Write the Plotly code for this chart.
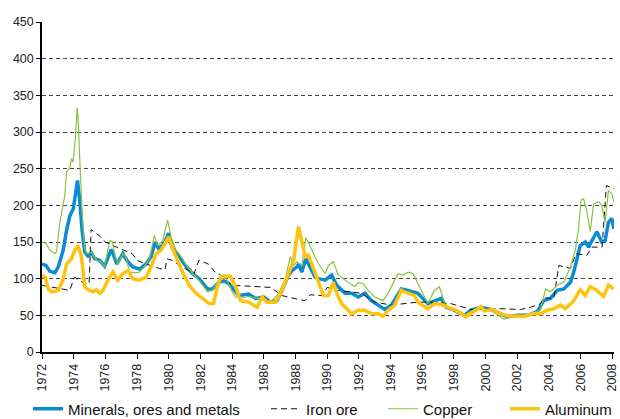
import plotly.graph_objects as go

# ---------------- data ----------------
minerals_t = [1972.00, 1972.25, 1972.50, 1972.82, 1973.03, 1973.34, 1973.55, 1973.76, 1973.97, 1974.11,
              1974.24, 1974.38, 1974.53, 1974.70, 1974.91, 1975.12, 1975.33, 1975.64, 1975.95, 1976.37,
              1976.73, 1977.10, 1977.42, 1977.73, 1978.15, 1978.57, 1978.88, 1979.15, 1979.36, 1979.72,
              1979.99, 1980.24, 1980.56, 1980.97, 1981.50, 1981.92, 1982.44, 1982.75, 1983.17, 1983.49,
              1983.80, 1984.43, 1985.05, 1985.47, 1986.00, 1986.41, 1986.83, 1987.15, 1987.56, 1987.77,
              1988.09, 1988.19, 1988.40, 1988.65, 1988.92, 1989.24, 1989.45, 1989.87, 1990.28, 1990.60,
              1991.12, 1991.54, 1991.96, 1992.38, 1992.79, 1993.21, 1993.63, 1994.05, 1994.68, 1995.10,
              1995.52, 1995.72, 1996.35, 1996.77, 1997.19, 1997.50, 1998.03, 1998.65, 1999.07, 1999.70,
              2000.33, 2000.95, 2001.37, 2002.00, 2002.63, 2003.26, 2003.67, 2004.09, 2004.51, 2004.93,
              2005.35, 2005.56, 2005.77, 2005.97, 2006.29, 2006.50, 2006.71, 2007.02, 2007.33, 2007.54,
              2007.75, 2007.96, 2008.10]
minerals_v = [120, 118, 110, 108, 116, 139, 166, 186, 195, 220,
              234, 207, 166, 136, 131, 135, 127, 125, 117, 140,
              120, 134, 123, 116, 113, 120, 130, 150, 141, 148,
              162, 141, 134, 120, 107, 100, 86, 86, 95, 97,
              93, 77, 79, 73, 75, 68, 70, 84, 105, 111,
              116, 120, 109, 127, 116, 102, 100, 98, 105, 91,
              80, 80, 75, 80, 70, 64, 58, 64, 86, 84,
              82, 80, 66, 70, 73, 61, 57, 50, 57, 61,
              58, 52, 48, 50, 50, 55, 70, 73, 84, 86,
              95, 109, 130, 145, 150, 143, 152, 164, 150, 152,
              177, 182, 168]

iron_t = [1972.00, 1973.75, 1974.05, 1974.70, 1974.97, 1975.10, 1975.60, 1976.00, 1976.70, 1977.70,
          1978.00, 1978.55, 1979.40, 1979.75, 1979.90, 1980.20, 1980.85, 1981.60, 1981.90, 1982.50,
          1983.00, 1983.20, 1984.00, 1985.25, 1986.50, 1986.70, 1987.15, 1987.70, 1988.60, 1988.93,
          1989.66, 1990.00, 1990.70, 1992.17, 1993.00, 1994.05, 1994.90, 1995.70, 1996.50, 1997.80,
          1998.45, 1999.06, 2000.96, 2002.20, 2002.84, 2003.47, 2003.68, 2004.30, 2004.62, 2005.35,
          2005.70, 2006.40, 2006.70, 2007.35, 2007.62, 2008.10]
iron_v = [91, 84, 102, 93, 93, 167, 159, 150, 143, 134,
          125, 120, 114, 112, 127, 125, 116, 107, 125, 120,
          107, 106, 91, 89, 88, 84, 77, 74, 70, 78,
          77, 88, 84, 80, 68, 64, 66, 68, 68, 66,
          62, 58, 59, 58, 61, 66, 74, 73, 118, 114,
          134, 132, 143, 143, 227, 222]

copper_t = [1972.00, 1972.25, 1972.50, 1972.80, 1972.92, 1973.13, 1973.44, 1973.55, 1973.76, 1973.86,
            1973.96, 1974.10, 1974.22, 1974.30, 1974.39, 1974.53, 1974.70, 1974.80, 1975.12, 1975.43,
            1975.74, 1975.95, 1976.16, 1976.30, 1976.45, 1976.65, 1976.80, 1977.10, 1977.30, 1977.52,
            1977.84, 1978.15, 1978.46, 1978.78, 1979.09, 1979.30, 1979.62, 1979.93, 1980.14, 1980.45,
            1980.77, 1981.18, 1981.60, 1982.02, 1982.44, 1982.75, 1983.17, 1983.59, 1984.01, 1984.22,
            1984.53, 1985.05, 1985.47, 1985.89, 1986.41, 1986.94, 1987.36, 1987.67, 1987.88, 1988.09,
            1988.40, 1988.65, 1989.03, 1989.45, 1989.87, 1990.08, 1990.38, 1990.70, 1991.12, 1991.44,
            1991.75, 1991.96, 1992.27, 1992.59, 1993.00, 1993.53, 1993.84, 1994.26, 1994.47, 1994.78,
            1995.10, 1995.41, 1995.72, 1996.35, 1996.77, 1997.08, 1997.50, 1998.03, 1998.65, 1999.28,
            1999.70, 2000.33, 2001.16, 2001.58, 2002.21, 2002.84, 2003.46, 2003.78, 2004.09, 2004.51,
            2004.93, 2005.35, 2005.66, 2005.87, 2006.02, 2006.18, 2006.39, 2006.60, 2006.81, 2007.13,
            2007.33, 2007.54, 2007.75, 2007.96, 2008.10]
copper_v = [150, 148, 139, 134, 137, 177, 214, 246, 251, 264,
            259, 290, 333, 310, 259, 191, 141, 134, 136, 125,
            123, 116, 140, 152, 150, 128, 120, 134, 130, 109,
            108, 109, 116, 127, 159, 145, 152, 180, 157, 139,
            130, 116, 105, 95, 82, 84, 98, 102, 82, 75,
            73, 76, 73, 73, 68, 80, 100, 130, 118, 123,
            118, 156, 139, 120, 107, 118, 123, 105, 98, 93,
            89, 95, 93, 84, 75, 70, 80, 98, 107, 105,
            109, 107, 93, 66, 84, 89, 61, 58, 50, 58,
            59, 57, 45, 48, 50, 52, 57, 86, 82, 91,
            95, 116, 139, 170, 207, 209, 191, 164, 202, 205,
            200, 177, 220, 216, 205]

aluminum_t = [1972.00, 1972.20, 1972.40, 1972.61, 1973.03, 1973.34, 1973.55, 1973.86, 1974.07, 1974.28,
              1974.49, 1974.70, 1974.91, 1975.22, 1975.43, 1975.64, 1975.85, 1976.16, 1976.48, 1976.79,
              1977.10, 1977.42, 1977.73, 1978.15, 1978.57, 1978.88, 1979.20, 1979.51, 1979.82, 1979.99,
              1980.24, 1980.56, 1980.87, 1981.29, 1981.71, 1982.13, 1982.54, 1982.82, 1983.07, 1983.28,
              1983.49, 1983.90, 1984.22, 1984.53, 1985.05, 1985.58, 1985.89, 1986.20, 1986.73, 1987.15,
              1987.46, 1987.88, 1988.19, 1988.40, 1988.61, 1988.82, 1989.13, 1989.45, 1989.76, 1990.08,
              1990.38, 1990.60, 1990.91, 1991.33, 1991.54, 1991.96, 1992.38, 1992.79, 1993.21, 1993.53,
              1993.84, 1994.26, 1994.68, 1994.89, 1995.21, 1995.52, 1995.72, 1996.35, 1996.77, 1997.19,
              1997.61, 1998.13, 1998.76, 1999.28, 1999.70, 1999.91, 2000.43, 2000.95, 2001.48, 2002.00,
              2002.42, 2002.94, 2003.46, 2003.88, 2004.30, 2004.72, 2005.03, 2005.56, 2005.97, 2006.29,
              2006.60, 2007.02, 2007.44, 2007.75, 2008.07]
aluminum_v = [105, 102, 86, 82, 84, 100, 120, 127, 139, 145,
              130, 89, 85, 82, 85, 80, 84, 98, 109, 98,
              107, 111, 100, 98, 102, 116, 134, 139, 150, 157,
              141, 125, 109, 91, 80, 73, 66, 66, 89, 102,
              104, 103, 89, 70, 68, 61, 75, 68, 68, 84,
              102, 125, 171, 148, 130, 132, 114, 93, 77, 77,
              95, 80, 66, 57, 52, 57, 57, 52, 52, 49,
              57, 64, 84, 82, 80, 77, 68, 59, 66, 65,
              61, 57, 48, 55, 62, 56, 58, 52, 49, 49,
              48, 52, 52, 57, 59, 64, 59, 70, 85, 77,
              89, 84, 76, 91, 86]

year_ticks = list(range(1972, 2009, 2))
year_labels = [str(y) for y in year_ticks]
y_ticks = list(range(0, 451, 50))

# ---------------- figure ----------------
FONT = "Liberation Sans, Arial, sans-serif"

fig = go.Figure()
fig.add_trace(go.Scatter(x=minerals_t, y=minerals_v, mode="lines",
                         name="Minerals, ores and metals", legend="legend",
                         line=dict(color="#0b8bd3", width=3.5)))
fig.add_trace(go.Scatter(x=iron_t, y=iron_v, mode="lines", name="Iron ore",
                         legend="legend2",
                         line=dict(color="#111111", width=1, dash="6px,4px")))
fig.add_trace(go.Scatter(x=copper_t, y=copper_v, mode="lines", name="Copper",
                         legend="legend3",
                         line=dict(color="#86c440", width=1.2)))
fig.add_trace(go.Scatter(x=aluminum_t, y=aluminum_v, mode="lines", name="Aluminum",
                         legend="legend4",
                         line=dict(color="#ffc20e", width=3.5)))


def leg(xpx):
    return dict(orientation="h", xref="container", yref="container",
                x=xpx / 620, y=1 - 409 / 419, xanchor="left", yanchor="middle",
                font=dict(size=15, color="#111111", family=FONT),
                itemwidth=30, bgcolor="rgba(0,0,0,0)")


fig.update_layout(
    width=620, height=419,
    margin=dict(l=42, r=6, t=22, b=67, autoexpand=False),
    paper_bgcolor="white", plot_bgcolor="white",
    font=dict(family=FONT, size=12.5, color="#222222"),
    showlegend=True,
    legend=leg(28), legend2=leg(266), legend3=leg(383), legend4=leg(505),
    xaxis=dict(range=[1972, 2008.1], tickmode="array", tickvals=year_ticks,
               ticktext=year_labels, tickangle=-90, ticks="outside", ticklen=5,
               tickcolor="#000000", showline=True, linecolor="#000000", linewidth=1.5,
               showgrid=False, zeroline=False, automargin=False,
               ticklabeloverflow="allow",
               tickfont=dict(size=12.5, color="#222222")),
    yaxis=dict(range=[0, 450], tickmode="array", tickvals=y_ticks,
               ticks="outside", ticklen=4, tickcolor="#000000",
               showline=True, linecolor="#000000", linewidth=1.5,
               showgrid=True, gridcolor="#444444", gridwidth=1, griddash="4px,3px",
               zeroline=False, automargin=False,
               tickfont=dict(size=12.5, color="#222222")),
)

fig.write_html("out.html",
               config={"displayModeBar": False},
               post_script="document.body.style.margin='0';document.body.style.padding='0';")
